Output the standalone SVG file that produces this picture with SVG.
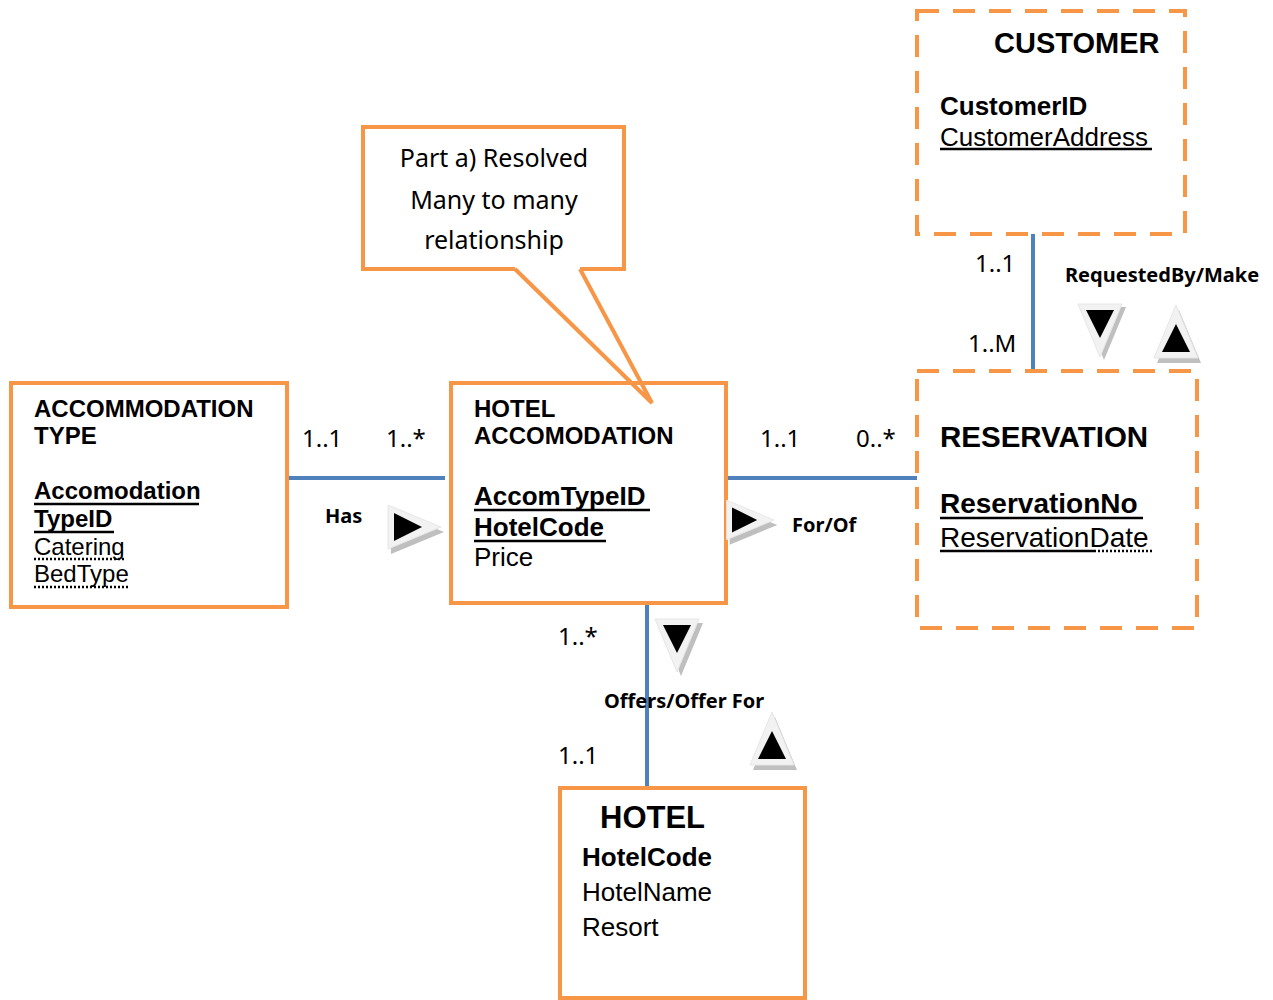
<svg xmlns="http://www.w3.org/2000/svg" xmlns:xlink="http://www.w3.org/1999/xlink" width="1273" height="1000" viewBox="0 0 1273 1000">
<style>
.box{fill:#fff;stroke:#F79646;stroke-width:4}
.dash{fill:#fff;stroke:#F79646;stroke-width:4;stroke-dasharray:22 14}
.conn{stroke:#4F81BD;stroke-width:4;fill:none}
.tail{fill:none;stroke:#F79646;stroke-width:4;stroke-linejoin:miter}
.a{font-family:"Liberation Sans",Arial,sans-serif;fill:#000}
.b{font-weight:bold}
.c{font-family:"Noto Sans","Open Sans",sans-serif;fill:#000}
.ul{stroke:#000;stroke-width:2.5}
.dot{stroke:#000;stroke-width:2.5;stroke-dasharray:2 2}
.tl{fill:#F2F2F2;stroke:#E6E6E6;stroke-width:1}
.ts{fill:#BFBFBF}
</style>
<defs>
<path id="tOut" d="M-26,-22 L27,0 L-26,22 Z"/>
<path id="tIn" d="M-20,-14 L8,0 L-20,14 Z"/>
</defs>
<rect width="1273" height="1000" fill="#fff"/>

<g id="connectors">
<line class="conn" x1="287" y1="478" x2="445" y2="478"/>
<line class="conn" x1="720" y1="478" x2="917" y2="478"/>
<line class="conn" x1="1033" y1="234" x2="1033" y2="371"/>
<line class="conn" x1="647" y1="603" x2="647" y2="787"/>
</g>

<g id="accommodation-type">
<rect class="box" x="11" y="383" width="276" height="224"/>
<text class="a b" font-size="24" x="34" y="417">ACCOMMODATION</text>
<text class="a b" font-size="24" x="34" y="444">TYPE</text>
<text class="a b" font-size="24" x="34" y="499">Accomodation</text>
<line class="ul" x1="34" y1="504" x2="199" y2="504"/>
<text class="a b" font-size="24" x="34" y="527">TypeID</text>
<line class="ul" x1="34" y1="532" x2="114" y2="532"/>
<text class="a" font-size="24" x="34" y="555">Catering</text>
<line class="dot" x1="34" y1="559" x2="124" y2="559"/>
<text class="a" font-size="24" x="34" y="582">BedType</text>
<line class="dot" x1="34" y1="587" x2="128" y2="587"/>
</g>

<g id="hotel-accomodation">
<rect class="box" x="451" y="383" width="275" height="220"/>
<text class="a b" font-size="24" x="474" y="417">HOTEL</text>
<text class="a b" font-size="24" x="474" y="444">ACCOMODATION</text>
<text class="a b" font-size="26" x="474" y="505">AccomTypeID</text>
<line class="ul" x1="474" y1="510" x2="650" y2="510"/>
<text class="a b" font-size="26" x="474" y="536">HotelCode</text>
<line class="ul" x1="474" y1="541" x2="606" y2="541"/>
<text class="a" font-size="26" x="474" y="566">Price</text>
</g>

<g id="callout">
<rect x="363" y="127" width="261" height="142" fill="#fff"/>
<path class="tail" d="M515,269 L363,269 L363,127 L624,127 L624,269 L580,269"/>
<path class="tail" d="M515,269 L652,403 L580,269"/>
<text class="c" font-size="25" text-anchor="middle" x="494" y="167">Part a) Resolved</text>
<text class="c" font-size="25" text-anchor="middle" x="494" y="209">Many to many</text>
<text class="c" font-size="25" text-anchor="middle" x="494" y="249">relationship</text>
</g>

<g id="customer">
<rect class="dash" x="917" y="11" width="268" height="223"/>
<text class="a b" font-size="29" x="994" y="53">CUSTOMER</text>
<text class="a b" font-size="26" x="940" y="115">CustomerID</text>
<text class="a" font-size="26" x="940" y="146">CustomerAddress</text>
<line class="ul" x1="940" y1="149" x2="1152" y2="149" stroke-width="2"/>
</g>

<g id="reservation">
<rect class="dash" x="917" y="371" width="280" height="257"/>
<text class="a b" font-size="29.5" x="940" y="447">RESERVATION</text>
<text class="a b" font-size="28" x="940" y="513">ReservationNo</text>
<line class="ul" x1="940" y1="518" x2="1143" y2="518"/>
<text class="a" font-size="28" x="940" y="547">ReservationDate</text>
<line class="ul" x1="940" y1="551" x2="1094" y2="551"/>
<line class="dot" x1="1094" y1="551" x2="1152" y2="551"/>
</g>

<g id="hotel">
<rect class="box" x="560" y="788" width="245" height="210"/>
<text class="a b" font-size="31" x="600" y="828">HOTEL</text>
<text class="a b" font-size="26" x="582" y="866">HotelCode</text>
<text class="a" font-size="26" x="582" y="901">HotelName</text>
<text class="a" font-size="26" x="582" y="936">Resort</text>
</g>

<g id="labels">
<text class="c" font-size="24" x="302" y="447">1..1</text>
<text class="c" font-size="24" x="386" y="447">1..*</text>
<text class="c b" font-size="20" x="325" y="523">Has</text>
<text class="c" font-size="24" x="760" y="447">1..1</text>
<text class="c" font-size="24" x="856" y="447">0..*</text>
<text class="c b" font-size="20" x="792" y="532">For/Of</text>
<text class="c" font-size="24" x="975" y="272">1..1</text>
<text class="c" font-size="24" x="968" y="352">1..M</text>
<text class="c b" font-size="20" x="1065" y="282">RequestedBy/Make</text>
<text class="c" font-size="24" x="558" y="645">1..*</text>
<text class="c b" font-size="20" x="604" y="708">Offers/Offer For</text>
<text class="c" font-size="24" x="558" y="764">1..1</text>
</g>

<g id="direction-arrows">
<use xlink:href="#tOut" class="ts" transform="translate(417,532)"/>
<g transform="translate(414,527)"><use xlink:href="#tOut" class="tl"/><use xlink:href="#tIn"/></g>
<use xlink:href="#tOut" class="ts" transform="translate(753,525) scale(0.9)"/>
<g transform="translate(750,520) scale(0.9)"><use xlink:href="#tOut" class="tl"/><use xlink:href="#tIn"/></g>
<use xlink:href="#tOut" class="ts" transform="translate(1104,333) rotate(90)"/>
<g transform="translate(1100,330) rotate(90)"><use xlink:href="#tOut" class="tl"/><use xlink:href="#tIn"/></g>
<use xlink:href="#tOut" class="ts" transform="translate(1179,337) rotate(-90)"/>
<g transform="translate(1176,332) rotate(-90)"><use xlink:href="#tOut" class="tl"/><use xlink:href="#tIn"/></g>
<use xlink:href="#tOut" class="ts" transform="translate(681,649) rotate(90)"/>
<g transform="translate(677,645) rotate(90)"><use xlink:href="#tOut" class="tl"/><use xlink:href="#tIn"/></g>
<use xlink:href="#tOut" class="ts" transform="translate(775,744) rotate(-90)"/>
<g transform="translate(772,739) rotate(-90)"><use xlink:href="#tOut" class="tl"/><use xlink:href="#tIn"/></g>
</g>
</svg>
